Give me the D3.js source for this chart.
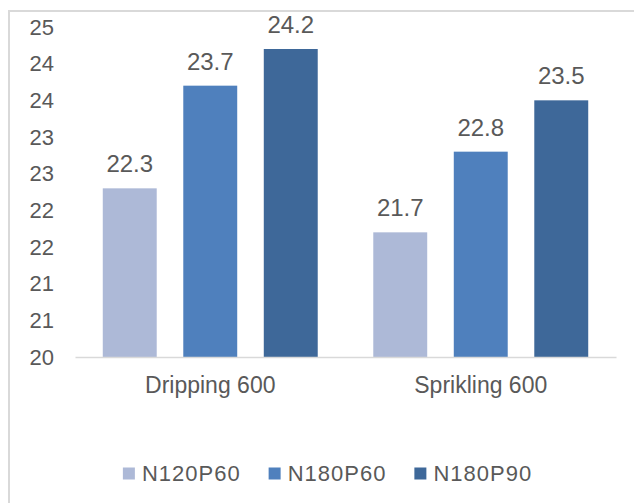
<!DOCTYPE html>
<html>
<head>
<meta charset="utf-8">
<script src="https://cdn.jsdelivr.net/npm/d3@7"></script>
<style>
  html, body { margin: 0; padding: 0; background: #fff; }
  svg { display: block; font-family: "Liberation Sans", Arial, sans-serif; }
</style>
</head>
<body>
<svg id="chart" width="634" height="503"></svg>
<script>
// ---- data ----
const categories = ["Dripping 600", "Sprikling 600"];
const seriesNames = ["N120P60", "N180P60", "N180P90"];
const N120P60 = [22.3, 21.7];
const N180P60 = [23.7, 22.8];
const N180P90 = [24.2, 23.5];
const yTicks = [20, 20.5, 21, 21.5, 22, 22.5, 23, 23.5, 24, 24.5];

const seriesValues = [N120P60, N180P60, N180P90];
const colors = ["#adb9d7", "#4f80bd", "#3e6899"];
const textColor = "#595959";

const svg = d3.select("#chart");

// outer frame
svg.append("rect")
  .attr("x", 9).attr("y", 11).attr("width", 700).attr("height", 600)
  .attr("fill", "#fff").attr("stroke", "#d9d9d9").attr("stroke-width", 2);

const plot = { left: 75, right: 616, top: 27, bottom: 357 };

const x0 = d3.scaleBand().domain(categories).range([plot.left, plot.right]).padding(0);
const x1 = d3.scaleBand().domain(seriesNames).range([0, x0.bandwidth()])
  .paddingInner(0.33).paddingOuter(0.345);
const y = d3.scaleLinear().domain([20, 24.5]).range([plot.bottom, plot.top]);

// y axis labels
const yAxis = d3.axisLeft(y).tickValues(yTicks).tickSize(0).tickPadding(0)
  .tickFormat(d => String(Math.round(d)));
const yg = svg.append("g").attr("transform", `translate(${54},0)`).call(yAxis);
yg.select(".domain").remove();
yg.selectAll("text").attr("fill", textColor).style("font-size", "22px")
  .style("font-family", "'Liberation Sans', Arial, sans-serif");

// bars
const rows = categories.map((c, i) => ({
  cat: c,
  vals: seriesNames.map((s, j) => ({ s, v: seriesValues[j][i], j }))
}));

const groups = svg.append("g").selectAll("g").data(rows).join("g")
  .attr("transform", d => `translate(${x0(d.cat)},0)`);

groups.selectAll("rect").data(d => d.vals).join("rect")
  .attr("x", d => x1(d.s))
  .attr("width", x1.bandwidth())
  .attr("y", d => y(d.v))
  .attr("height", d => y(20) - y(d.v))
  .attr("fill", d => colors[d.j]);

groups.selectAll("text.val").data(d => d.vals).join("text")
  .attr("class", "val")
  .attr("x", d => x1(d.s) + x1.bandwidth() / 2)
  .attr("y", d => y(d.v) - 16)
  .attr("text-anchor", "middle")
  .attr("fill", textColor)
  .style("font-size", "24px")
  .text(d => d.v.toFixed(1));

// x axis line
const xAxis = d3.axisBottom(x0).tickSize(0).tickPadding(0);
const xg = svg.append("g").attr("transform", `translate(0,${plot.bottom})`).call(xAxis);
xg.select(".domain").attr("stroke", "#d9d9d9").attr("stroke-width", 1.5);
xg.selectAll("text").attr("fill", textColor).style("font-size", "23px")
  .style("font-family", "'Liberation Sans', Arial, sans-serif")
  .attr("dy", null).attr("y", 36);

// legend
const legend = svg.append("g");
const items = legend.selectAll("g").data(seriesNames).join("g");
items.append("rect").attr("width", 12).attr("height", 12).attr("y", 467.5)
  .attr("fill", (d, i) => colors[i]);
items.append("text").attr("x", 19).attr("y", 481)
  .attr("fill", textColor).style("font-size", "22px").style("letter-spacing", "1px")
  .text(d => d);
let cursor = 0;
const gapBetween = 28;
const widths = [];
items.each(function () {
  const w = 19 + d3.select(this).select("text").node().getComputedTextLength();
  widths.push(w);
});
const total = d3.sum(widths) + gapBetween * (widths.length - 1);
cursor = 327.5 - total / 2;
items.attr("transform", (d, i) => {
  const t = `translate(${cursor},0)`;
  cursor += widths[i] + gapBetween;
  return t;
});
</script>
</body>
</html>
